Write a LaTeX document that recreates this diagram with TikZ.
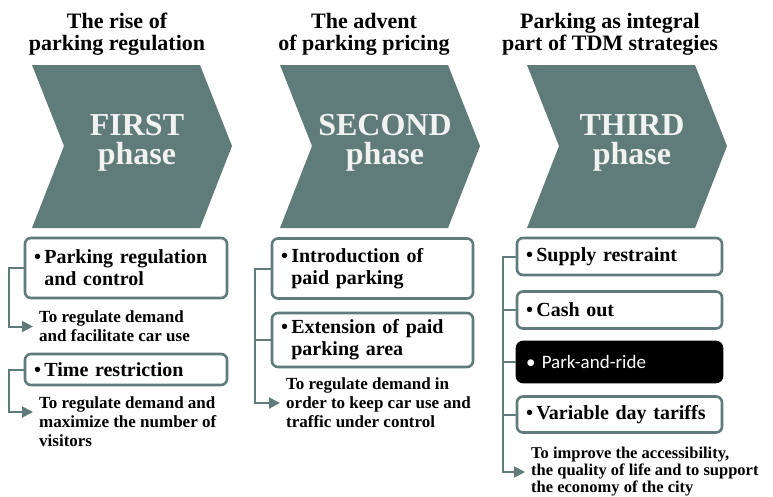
\documentclass[tikz,border=0pt]{standalone}
\usepackage{fontspec}
\setmainfont{Liberation Serif}
\newfontfamily\ridefont{Carlito}
\usetikzlibrary{arrows.meta,positioning}

\definecolor{phasegreen}{HTML}{5F7B7A}

\newcommand{\pt}{\textbullet\,}

\begin{document}
\begin{tikzpicture}[x=1pt,y=-1pt,
	title/.style={align=center,font=\bfseries\fontsize{22}{22}\selectfont},
	phaselabel/.style={align=center,text=white!95!black,font=\bfseries\fontsize{32}{29}\selectfont},
	item/.style={draw=phasegreen,line width=2.6pt,rounded corners=6pt,fill=white,
		inner xsep=9pt,align=left,font=\bfseries\fontsize{20}{22}\selectfont},
	note/.style={anchor=west,inner xsep=6pt,align=left,font=\bfseries\fontsize{17}{19}\selectfont},
	link/.style={draw=phasegreen,line width=2pt},
	goal/.style={link,-{Triangle[length=11pt,width=11pt]}}]

	\useasboundingbox (0,0) rectangle (773,496);

	% the three chevrons
	\foreach \x in {32,280,527}
		\fill[phasegreen] (\x,65) -- ++(168,0) -- ++(32,81) -- ++(-32,82) -- ++(-168,0) -- ++(32,-82) -- cycle;

	\node[title] (riseTitle) at (117,34) {The rise of\\parking regulation};
	\node[title] (adventTitle) at (364,34) {The advent\\of parking pricing};
	\node[title] (tdmTitle) at (610,34) {Parking as integral\\part of TDM strategies};

	\node[phaselabel] (first) at (137,142.5) {FIRST\\phase};
	\node[phaselabel] (second) at (385,142.5) {SECOND\\phase};
	\node[phaselabel] (third) at (632,142.5) {THIRD\\phase};

	% first phase
	\node[item,minimum width=202,minimum height=60,text width=184] (regulation) at (126,268)
		{\pt Parking regulation\\\phantom{\pt}and control};
	\node[item,minimum width=202,minimum height=31,text width=184] (timeLimit) at (126,369.5)
		{\pt Time restriction};
	\node[note] (regNote) at (33,326.5) {To regulate demand\\and facilitate car use};
	\node[note] (timeNote) at (33,422) {To regulate demand and\\maximize the number of\\visitors};

	\draw[goal] (regulation.west) -- ++(-15,0) |- (regNote.west);
	\draw[goal] (timeLimit.west) -- ++(-15,0) |- ([yshift=10pt]timeNote.west);

	% second phase
	\node[item,minimum width=201,minimum height=60,text width=183] (paid) at (372.5,268.5)
		{\pt Introduction of\\\phantom{\pt}paid parking};
	\node[item,minimum width=201,minimum height=54,text width=183] (extension) at (372.5,340)
		{\pt Extension of paid\\\phantom{\pt}parking area};
	\node[note] (paidNote) at (280,403) {To regulate demand in\\order to keep car use and\\traffic under control};

	\draw[goal] (paid.west) -- ++(-16,0) |- (paidNote.west);
	\draw[link] (extension.west) -- ++(-16,0);

	% third phase
	\node[item,minimum width=205,minimum height=37,text width=187,inner xsep=8pt] (supply) at (619.5,256.5)
		{\pt Supply restraint};
	\node[item,minimum width=205,minimum height=37,text width=187,inner xsep=8pt] (cashOut) at (619.5,310)
		{\pt Cash out};
	\node[item,draw=black,fill=black,text=white,minimum width=205,minimum height=40,text width=187,inner xsep=8pt,
		font=\ridefont\fontsize{19}{22}\selectfont] (parkRide) at (619.5,362)
		{\textbullet\ Park-and-ride};
	\node[item,minimum width=205,minimum height=36,text width=187,inner xsep=8pt] (tariffs) at (619.5,414.5)
		{\pt Variable day tariffs};
	\node[note,font=\bfseries\fontsize{16.5}{17}\selectfont] (cityNote) at (525,472)
		{To improve the accessibility,\\the quality of life and to support\\the economy of the city};

	\draw[goal] (supply.west) -- ++(-13,0) |- (cityNote.west);
	\draw[link] (cashOut.west) -- ++(-13,0);
	\draw[link] (parkRide.west) -- ++(-13,0);
	\draw[link] (tariffs.west) -- ++(-13,0);
\end{tikzpicture}
\end{document}
